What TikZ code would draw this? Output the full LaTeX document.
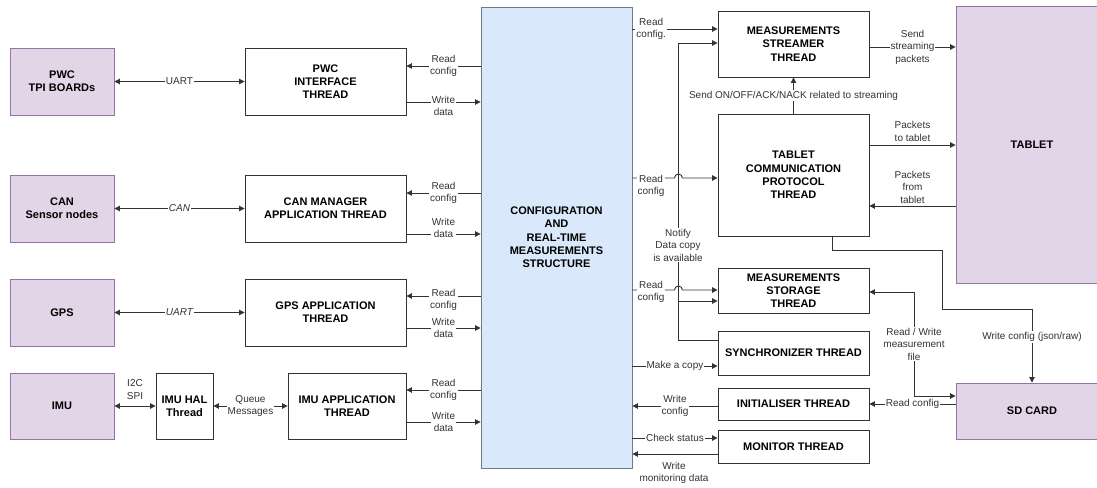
\documentclass[tikz,border=0pt]{standalone}
\usepackage{fontspec}
\setmainfont{Liberation Sans}
\usetikzlibrary{arrows.meta}

\definecolor{extfill}{HTML}{E1D5E7}
\definecolor{extline}{HTML}{9673A6}
\definecolor{cfgfill}{HTML}{DAE8FC}
\definecolor{cfgline}{HTML}{6F7A86}
\definecolor{lineg}{HTML}{333333}

\tikzset{
  ext/.style={draw=extline, fill=extfill, line width=0.9pt, inner sep=0pt, align=center,
    font=\fontsize{11}{13.3}\selectfont\bfseries},
  thr/.style={draw=lineg, fill=white, line width=0.9pt, inner sep=0pt, align=center,
    font=\fontsize{11}{13.3}\selectfont\bfseries},
  lbl/.style={fill=white, inner sep=1pt, align=center, text=lineg,
    font=\fontsize{10}{12.5}\selectfont},
  arr/.style={draw=lineg, line width=0.9pt, -{Triangle[length=5.5pt,width=5.5pt]}},
  biarr/.style={draw=lineg, line width=0.9pt, {Triangle[length=5.5pt,width=5.5pt]}-{Triangle[length=5.5pt,width=5.5pt]}},
  wire/.style={draw=lineg, line width=0.9pt}
}

\begin{document}
\begin{tikzpicture}[x=1pt,y=-1pt]

\useasboundingbox (0,0) rectangle (1097,487);

%external devices
\node[ext, minimum width=104, minimum height=67] at (62, 81.5)(pwc){PWC\\TPI BOARDs};
\node[ext, minimum width=104, minimum height=67] at (62, 208.5)(can){CAN\\Sensor nodes};
\node[ext, minimum width=104, minimum height=67] at (62, 312.5)(gps){GPS};
\node[ext, minimum width=104, minimum height=66] at (62, 406)(imu){IMU};
\node[ext, minimum width=152, minimum height=277] at (1032, 144.5)(tab){TABLET};
\node[ext, minimum width=152, minimum height=56] at (1032, 411)(sd){SD CARD};

%threads
\node[thr, minimum width=161, minimum height=67] at (325.5, 81.5)(pwct){PWC\\INTERFACE\\THREAD};
\node[thr, minimum width=161, minimum height=67] at (325.5, 208.5)(cant){CAN MANAGER\\APPLICATION THREAD};
\node[thr, minimum width=161, minimum height=67] at (325.5, 312.5)(gpst){GPS APPLICATION\\THREAD};
\node[thr, minimum width=57, minimum height=66] at (184.5, 406)(hal){IMU HAL\\Thread};
\node[thr, minimum width=118, minimum height=66] at (347, 406)(imut){IMU APPLICATION\\THREAD};

\node[thr, minimum width=151, minimum height=66] at (793.5, 44)(strm){MEASUREMENTS\\STREAMER\\THREAD};
\node[thr, minimum width=151, minimum height=122] at (793.5, 175)(tcp){TABLET\\COMMUNICATION\\PROTOCOL\\THREAD};
\node[thr, minimum width=151, minimum height=45] at (793.5, 290.5)(stor){MEASUREMENTS\\STORAGE\\THREAD};
\node[thr, minimum width=151, minimum height=44] at (793.5, 353)(sync){SYNCHRONIZER THREAD};
\node[thr, minimum width=151, minimum height=32] at (793.5, 404)(init){INITIALISER THREAD};
\node[thr, minimum width=151, minimum height=33] at (793.5, 446.5)(mon){MONITOR THREAD};

%shared structure
\node[thr, draw=cfgline, fill=cfgfill, minimum width=151, minimum height=461] at (556.5, 237.5)(cfg){CONFIGURATION\\AND\\REAL-TIME\\MEASUREMENTS\\STRUCTURE};

%bus links
\draw[biarr] (pwc) -- node[lbl]{UART} (pwct);
\draw[biarr] (can) -- node[lbl]{\itshape CAN} (cant);
\draw[biarr] (gps) -- node[lbl]{\itshape UART} (gpst);
\draw[biarr] (imu) -- node[lbl, above=5pt]{I2C\\SPI} (hal);
\draw[biarr] (hal) -- node[lbl]{Queue\\Messages} (imut);

%left read / write
\draw[arr] (cfg.west |- 0,66) -- node[lbl]{Read\\config} (pwct.east |- 0,66);
\draw[arr] (pwct.east |- 0,102) -- node[lbl, yshift=-4pt]{Write\\data} (cfg.west |- 0,102);
\draw[arr] (cfg.west |- 0,193) -- node[lbl]{Read\\config} (cant.east |- 0,193);
\draw[arr] (cant.east |- 0,234) -- node[lbl, yshift=6pt]{Write\\data} (cfg.west |- 0,234);
\draw[arr] (cfg.west |- 0,296) -- node[lbl, yshift=-4pt]{Read\\config} (gpst.east |- 0,296);
\draw[arr] (gpst.east |- 0,328) -- node[lbl]{Write\\data} (cfg.west |- 0,328);
\draw[arr] (cfg.west |- 0,390) -- node[lbl]{Read\\config} (imut.east |- 0,390);
\draw[arr] (imut.east |- 0,422) -- node[lbl]{Write\\data} (cfg.west |- 0,422);

%notify data copy
\draw[wire] (sync.west |- 0,340) -- (678,340) -- node[lbl, pos=0.32]{Notify\\Data copy\\is available} (678,43);
\draw[arr] (678,43) -- (strm.west |- 0,43);
\draw[arr] (678,301) -- (stor.west |- 0,301);

%right read / write
\draw[arr] (cfg.east |- 0,29) -- node[lbl, pos=0.22]{Read\\config.} (strm.west |- 0,29);
\draw[arr] (cfg.east |- 0,178) -- ++(42,0) arc[start angle=180, end angle=0, radius=4pt] -- (tcp.west |- 0,178);
\node[lbl] at (651, 186)(rc2){Read\\config};
\draw[arr] (cfg.east |- 0,290) -- ++(42,0) arc[start angle=180, end angle=0, radius=4pt] -- (stor.west |- 0,290);
\node[lbl] at (651, 292)(rc3){Read\\config};
\draw[arr] (cfg.east |- 0,366) -- node[lbl]{Make a copy} (sync.west |- 0,366);
\draw[arr] (init.west |- 0,406) -- node[lbl]{Write\\config} (cfg.east |- 0,406);
\draw[arr] (cfg.east |- 0,438) -- node[lbl]{Check status} (mon.west |- 0,438);
\draw[arr] (mon.west |- 0,454) -- (cfg.east |- 0,454);
\node[lbl] at (674, 473)(wmd){Write\\monitoring data};

%tablet side
\draw[arr] (tcp) -- node[lbl]{Send ON/OFF/ACK/NACK related to streaming} (strm);
\draw[arr] (strm.east |- 0,47) -- node[lbl]{Send\\streaming\\packets} (tab.west |- 0,47);
\draw[arr] (tcp.east |- 0,145) -- node[lbl, above=2pt]{Packets\\to tablet} (tab.west |- 0,145);
\draw[arr] (tab.west |- 0,206) -- node[lbl, yshift=19pt]{Packets\\from\\tablet} (tcp.east |- 0,206);

%sd card
\draw[arr] (tcp.south -| 832,0) -- (832,250) -- (942,250) -- (942,309) -- (1032,309) -- node[lbl, pos=0.38]{Write config (json/raw)} (sd.north);
\draw[biarr] (stor.east |- 0,292) -- (914,292) -- node[lbl]{Read / Write\\measurement\\file} (914,396) -- (sd.west |- 0,396);
\draw[arr] (sd.west |- 0,404) -- node[lbl]{Read config} (init.east |- 0,404);

\end{tikzpicture}
\end{document}
